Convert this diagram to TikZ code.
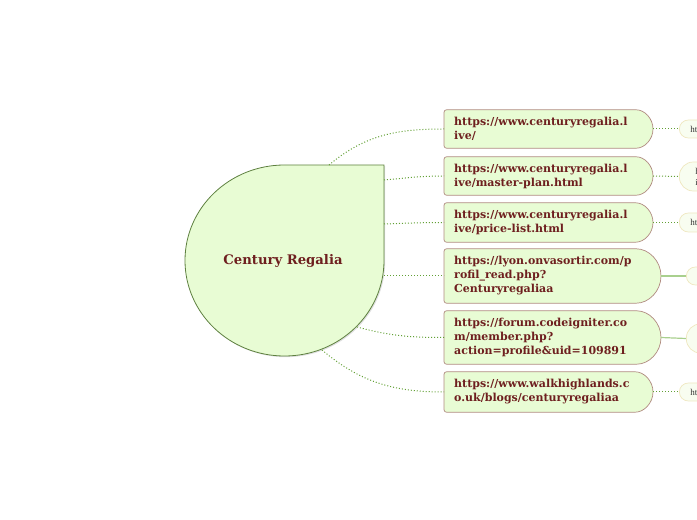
\documentclass[tikz,border=0pt]{standalone}
\usepackage{fontspec}
\setmainfont{Liberation Serif}
\newfontfamily\boxfont{DejaVu Serif}
\usetikzlibrary{calc,shadows,backgrounds}
\definecolor{nodefill}{HTML}{E8FCD4}
\definecolor{centerline}{HTML}{5E8040}
\definecolor{boxborder}{HTML}{B08A80}
\definecolor{txt}{HTML}{6E1F1F}
\definecolor{conn}{HTML}{62A035}
\definecolor{connlight}{HTML}{A9D08E}
\definecolor{smallfill}{HTML}{F8FDF0}
\definecolor{smallborder}{HTML}{EFE7C0}
\tikzset{
  boxtext/.style={anchor=west, inner xsep=10pt, inner ysep=0pt, align=left,
    font=\boxfont\bfseries\fontsize{11}{14}\selectfont, text=txt},
  boxline/.style={draw=boxborder, fill=nodefill, line width=0.7pt, rounded corners=2.5pt},
  smallnode/.style={anchor=west, draw=smallborder, fill=smallfill, line width=0.7pt,
    rounded corners=9pt, inner xsep=11pt, align=left, text=black!80,
    font=\fontsize{9}{11}\selectfont},
  link/.style={draw=conn, line width=1pt, dotted},
  linkb/.style={draw=connlight, line width=1.2pt},
}
\newcommand\boxoutline[2]{%
  \path[boxline] let \p1=(#1.north west), \p2=(#1.south west), \n1={(\y1-\y2)/2} in
  (\x2,\y2) -- (\x1,\y1) -- ({#2-\n1},\y1) arc[start angle=90,end angle=-90,radius=\n1] -- cycle;}
\begin{document}
\begin{tikzpicture}[x=1pt,y=1pt]
\useasboundingbox (0,0) rectangle (697,520);
% central shape
\path[draw=centerline, fill=nodefill, line width=0.8pt,
  drop shadow={opacity=0.25, shadow xshift=1.2pt, shadow yshift=-1.2pt}]
  (384,355) -- (384,259.5) arc[start angle=0,end angle=-90,x radius=99.5,y radius=95.5]
  arc[start angle=-90,end angle=-180,x radius=99.5,y radius=95.5]
  arc[start angle=180,end angle=90,x radius=99.5,y radius=95.5] -- cycle;
\node[font=\boxfont\bfseries\fontsize{13.2}{16}\selectfont, text=txt] (c) at (283,259) {Century Regalia};
\coordinate (c1) at (329,355);
\coordinate (c2) at (384,340);
\coordinate (c3) at (384,296);
\coordinate (c4) at (384,244);
\coordinate (c5) at (357,193);
\coordinate (c6) at (322,170);
% boxes
\node[boxtext, minimum height=38pt] (b1) at (444,391) {https://www.centuryregalia.l\\ive/};
\node[boxtext, minimum height=38pt] (b2) at (444,344) {https://www.centuryregalia.l\\ive/master-plan.html};
\node[boxtext, minimum height=39pt] (b3) at (444,297.5) {https://www.centuryregalia.l\\ive/price-list.html};
\node[boxtext, minimum height=54pt] (b4) at (444,244) {https://lyon.onvasortir.com/p\\rofil\_read.php?\\Centuryregaliaa};
\node[boxtext, minimum height=53pt] (b5) at (444,182.5) {https://forum.codeigniter.co\\m/member.php?\\action=profile\&uid=109891};
\node[boxtext, minimum height=40pt] (b6) at (444,128) {https://www.walkhighlands.c\\o.uk/blogs/centuryregaliaa};
\begin{pgfonlayer}{background}
\boxoutline{b1}{653}
\boxoutline{b2}{653}
\boxoutline{b3}{653}
\boxoutline{b4}{661}
\boxoutline{b5}{661}
\boxoutline{b6}{653}
\end{pgfonlayer}
% small clipped nodes
\node[smallnode, minimum height=18pt] (s1) at (679,391) {ht};
\node[smallnode, minimum height=29pt, inner xsep=16pt, rounded corners=14pt] (s2) at (679,343.5) {h\\i};
\node[smallnode, minimum height=19pt] (s3) at (679,297.5) {ht};
\node[smallnode, minimum height=18pt, minimum width=40pt] (s4) at (686,244) {};
\node[smallnode, minimum height=29pt, minimum width=40pt, rounded corners=14pt] (s5) at (686,181.5) {};
\node[smallnode, minimum height=18pt] (s6) at (679,128) {ht};
% connectors
\draw[link] (c1) to[out=40,in=180] (b1.west);
\draw[link] (c2) to[out=5,in=180] (b2.west);
\draw[link] (c3) to[out=2,in=180] (b3.west);
\draw[link] (c4) -- (b4.west);
\draw[link] (c5) to[out=-15,in=180] (b5.west);
\draw[link] (c6) to[out=-40,in=180] (b6.west);
\draw[link] (653,391) -- (s1.west);
\draw[link] (653,344) -- (s2.west);
\draw[link] (653,297.5) -- (s3.west);
\draw[linkb] (661,244) -- (s4.west);
\draw[linkb] (661,182.5) -- (s5.west);
\draw[link] (653,128) -- (s6.west);
\end{tikzpicture}
\end{document}
